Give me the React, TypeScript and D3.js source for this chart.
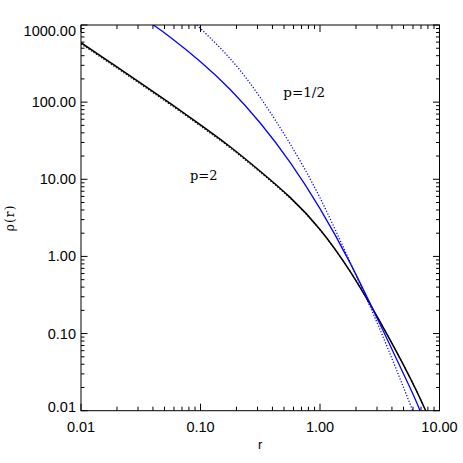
import React from "react";
import * as d3 from "d3";

// ---- data ----
const xMajorTicks = [0.01, 0.1, 1, 10];
const xTickLabels = ["0.01", "0.10", "1.00", "10.00"];
const yMajorTicks = [0.01, 0.1, 1, 10, 100, 1000];
const yTickLabels = ["0.01", "0.10", "1.00", "10.00", "100.00", "1000.00"];

// p = 2 (black solid)
const rP2 = [0.01, 0.0178, 0.0316, 0.0562, 0.1, 0.178, 0.316, 0.562, 1.0, 1.78, 3.16, 5.62, 7.67];
const rhoP2 = [589, 324, 176.8, 95.5, 50.7, 26.2, 12.7, 5.82, 2.24, 0.646, 0.1445, 0.0275, 0.01];
// p = 2 approximation (black dotted)
const rP2b = [0.01, 0.0178, 0.0316, 0.0562, 0.1, 0.178, 0.316, 0.562, 1.0, 1.78, 3.16, 5.62, 7.67];
const rhoP2b = [566, 311, 170, 92, 48.9, 25.3, 12.3, 5.68, 2.21, 0.646, 0.1445, 0.0275, 0.01];
// p = 1/2 (blue solid)
const rP05 = [0.0398, 0.0562, 0.1, 0.178, 0.316, 0.562, 1.0, 1.78, 3.16, 5.62, 6.87];
const rhoP05 = [1016, 690, 335, 145, 53.7, 16.6, 4.17, 0.832, 0.135, 0.0204, 0.01];
// p = 1/2 approximation (blue dotted)
const rP05b = [0.0933, 0.178, 0.316, 0.562, 1.0, 1.78, 3.16, 5.97];
const rhoP05b = [1000, 363, 115, 28.8, 5.75, 0.851, 0.115, 0.01];

const labelP2 = "p=2";
const labelP05 = "p=1/2";

const W = 463;
const H = 463;
const L = 81;
const R = 439.5;
const T = 25;
const B = 410.7;

export default function App() {
  const x = d3.scaleLog().domain([0.01, 10]).range([L, R]);
  const y = d3.scaleLog().domain([0.01, 1000]).range([B, T]);

  const line = d3
    .line<[number, number]>()
    .x((d) => x(d[0]))
    .y((d) => y(d[1]))
    .curve(d3.curveNatural);

  const zip = (a: number[], b: number[]) => a.map((v, i) => [v, b[i]] as [number, number]);

  const minor = (lo: number, hi: number) => {
    const out: number[] = [];
    for (let d = lo; d < hi; d *= 10) {
      for (let k = 2; k <= 9; k++) out.push(d * k);
    }
    return out;
  };
  const xMinor = minor(0.01, 10);
  const yMinor = minor(0.01, 1000);

  const sans = "'Liberation Sans', Arial, Helvetica, sans-serif";
  const serif = "'DejaVu Serif', serif";

  const majX = 7, minX = 4, majY = 6.5, minY = 3.5;

  return (
    <svg
      width={W}
      height={H}
      style={{ position: "absolute", left: 0, top: 0, background: "#fff" }}
    >
      <defs>
        <clipPath id="plotclip">
          <rect x={L} y={T} width={R - L} height={B - T} />
        </clipPath>
      </defs>

      {/* curves */}
      <g clipPath="url(#plotclip)" fill="none">
        <path d={line(zip(rP2b, rhoP2b)) || ""} stroke="#000" strokeWidth={1.1} strokeDasharray="1.2,1.8" />
        <path d={line(zip(rP2, rhoP2)) || ""} stroke="#000" strokeWidth={1.5} />
        <path d={line(zip(rP05b, rhoP05b)) || ""} stroke="#0000ff" strokeWidth={1.3} strokeDasharray="1.2,1.8" />
        <path d={line(zip(rP05, rhoP05)) || ""} stroke="#0000ff" strokeWidth={1.3} />
      </g>

      {/* frame */}
      <rect x={L} y={T} width={R - L} height={B - T} fill="none" stroke="#000" strokeWidth={1} />

      {/* ticks */}
      <g stroke="#000" strokeWidth={1}>
        {xMajorTicks.map((t) => (
          <g key={"xm" + t}>
            <line x1={x(t)} x2={x(t)} y1={B} y2={B - majX} />
            <line x1={x(t)} x2={x(t)} y1={T} y2={T + majX} />
          </g>
        ))}
        {xMinor.map((t) => (
          <g key={"xn" + t}>
            <line x1={x(t)} x2={x(t)} y1={B} y2={B - minX} />
            <line x1={x(t)} x2={x(t)} y1={T} y2={T + minX} />
          </g>
        ))}
        {yMajorTicks.map((t) => (
          <g key={"ym" + t}>
            <line x1={L} x2={L + majY} y1={y(t)} y2={y(t)} />
            <line x1={R} x2={R - majY} y1={y(t)} y2={y(t)} />
          </g>
        ))}
        {yMinor.map((t) => (
          <g key={"yn" + t}>
            <line x1={L} x2={L + minY} y1={y(t)} y2={y(t)} />
            <line x1={R} x2={R - minY} y1={y(t)} y2={y(t)} />
          </g>
        ))}
      </g>

      {/* tick labels */}
      <g fontFamily={sans} fontSize={14.5} fill="#000">
        {xMajorTicks.map((t, i) => (
          <text key={"xl" + t} x={x(t)} y={431.5} textAnchor="middle">
            {xTickLabels[i]}
          </text>
        ))}
        {yMajorTicks.map((t, i) => {
          const cy = Math.min(Math.max(y(t), T + 6), B - 4);
          return (
            <text key={"yl" + t} x={76} y={cy + 5} textAnchor="end">
              {yTickLabels[i]}
            </text>
          );
        })}
      </g>

      {/* axis titles */}
      <text x={(L + R) / 2} y={448.5} textAnchor="middle" fontFamily={sans} fontSize={13}>
        r
      </text>
      <text
        transform={`translate(14,${(T + B) / 2}) rotate(-90)`}
        textAnchor="middle"
        fontFamily={serif}
        fontSize={12}
        letterSpacing={1.2}
      >
        ρ(r)
      </text>

      {/* curve labels */}
      <text x={190} y={180} fontFamily={serif} fontSize={13}>
        {labelP2}
      </text>
      <text x={283.3} y={96.5} fontFamily={serif} fontSize={13.5}>
        {labelP05}
      </text>
    </svg>
  );
}
